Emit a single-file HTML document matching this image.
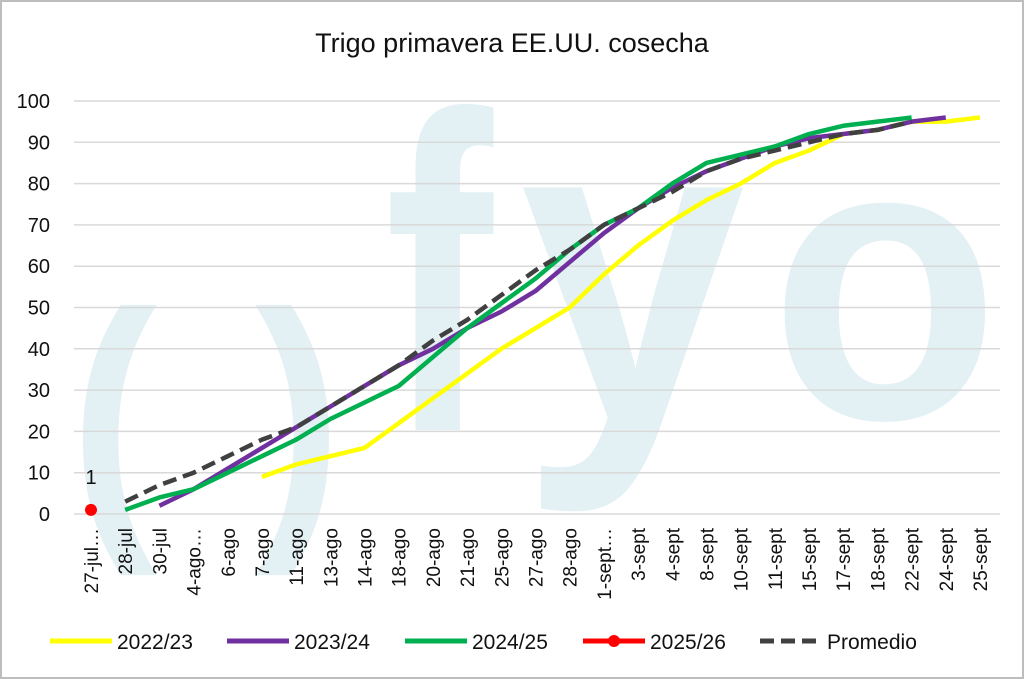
<!DOCTYPE html>
<html><head><meta charset="utf-8"><style>
html,body{margin:0;padding:0;background:#fff;}
svg{display:block;font-family:"Liberation Sans",sans-serif;}
</style></head><body>
<svg id="c" width="1024" height="679" viewBox="0 0 1024 679">
<rect x="1" y="1" width="1022" height="677" fill="#fff" stroke="#bdbdbd" stroke-width="2"/>
<g fill="#e3f0f4" font-weight="bold">
<text x="70" y="515" font-size="290" transform="translate(70,0) scale(0.9,1) translate(-70,0)">(</text>
<text x="255" y="515" font-size="290" transform="translate(255,0) scale(0.9,1) translate(-255,0)">)</text>
<text x="385" y="430" font-size="450" transform="translate(385,0) scale(0.72,1) translate(-385,0)">f</text>
<text x="520" y="420" font-size="440" transform="translate(520,0) scale(0.92,1) translate(-520,0)">y</text>
<text x="770" y="418" font-size="400" transform="translate(770,0) scale(0.94,1) translate(-770,0)">o</text>
</g>
<text x="512" y="52" font-size="27" text-anchor="middle" fill="#111">Trigo primavera EE.UU. cosecha</text>
<g id="grid"></g><g id="yt"></g><g id="xt"></g><g id="series"></g>
<g id="legend"></g>
</svg>
<script>
const categories=["27-jul…","28-jul","30-jul","4-ago…","6-ago","7-ago","11-ago","13-ago","14-ago","18-ago","20-ago","21-ago","25-ago","27-ago","28-ago","1-sept…","3-sept","4-sept","8-sept","10-sept","11-sept","15-sept","17-sept","18-sept","22-sept","24-sept","25-sept"];
const yTicks=[0,10,20,30,40,50,60,70,80,90,100];
const s2223=[null,null,null,null,null,9,12,14,16,22,28,34,40,45,50,58,65,71,76,80,85,88,92,93,95,95,96];
const s2324=[null,null,2,6,11,16,21,26,31,36,40,45,49,54,61,68,74,79,83,86,89,91,92,93,95,96,null];
const s2425=[null,1,4,6,10,14,18,23,27,31,38,45,51,57,64,70,74,80,85,87,89,92,94,95,96,null,null];
const s2526=[1];
const promedio=[null,3,7,10,14,18,21,26,31,36,42,47,53,59,64,70,74,78,83,86,88,90,92,93,95,null,null];
const NS="http://www.w3.org/2000/svg";
const x0=91,x1=980,y0=514,y1=101;
const X=i=>x0+(x1-x0)*i/(categories.length-1);
const Y=v=>y0-(y0-y1)*v/100;
function mk(t,a,p){const e=document.createElementNS(NS,t);for(const k in a)e.setAttribute(k,a[k]);p.appendChild(e);return e;}
const grid=document.getElementById('grid'),yt=document.getElementById('yt'),xt=document.getElementById('xt'),ser=document.getElementById('series'),lg=document.getElementById('legend');
yTicks.forEach(v=>{
 const l=mk('line',{x1:74,x2:1000,y1:Y(v),y2:Y(v),stroke:'#d9d9d9','stroke-width':1.5},grid);
 
 
 const t=mk('text',{x:50,y:Y(v)+7,'font-size':20,'text-anchor':'end',fill:'#111'},yt);
 t.textContent=v;
 
 
});
categories.forEach((c,i)=>{
 const t=mk('text',{transform:`translate(${X(i)+7},528) rotate(-90)`,'font-size':19,'text-anchor':'end',fill:'#111'},xt);
 t.textContent=c;
 
 
});
function line(data,color,name,dash){
 let d='';let pen=false;
 data.forEach((v,i)=>{if(v==null){pen=false;return;}d+=(pen?'L':'M')+X(i)+','+Y(v);pen=true;});
 const p=mk('path',{d:d,fill:'none',stroke:color,'stroke-width':4.5,'stroke-linejoin':'round'},ser);
 if(dash)p.setAttribute('stroke-dasharray','14 7');
 
 
}
line(s2223,'#ffff00','series-2022-23');
line(s2324,'#7030a0','series-2023-24');
line(s2425,'#00b050','series-2024-25');
line(promedio,'#404040','series-promedio',true);
s2526.forEach((v,i)=>{
 const c=mk('circle',{cx:X(i),cy:Y(v),r:6,fill:'#ff0000'},ser);
 
 
 const t=mk('text',{x:X(i),y:Y(v)-26,'font-size':20,'text-anchor':'middle',fill:'#111'},ser);
 t.textContent=v;
 
 
});
const leg=[["2022/23","#ffff00",50,false,false],["2023/24","#7030a0",227,false,false],["2024/25","#00b050",405,false,false],["2025/26","#ff0000",583,false,true],["Promedio","#404040",760,true,false]];
leg.forEach(([lab,col,lx,dash,dot])=>{
 const g=mk('g',{},lg);
 
 
 const l=mk('line',{x1:lx,x2:lx+62,y1:641,y2:641,stroke:col,'stroke-width':5},g);
 if(dash)l.setAttribute('stroke-dasharray','14 7');
 if(dot)mk('circle',{cx:lx+31,cy:641,r:6,fill:col},g);
 const t=mk('text',{x:lx+67,y:649,'font-size':21,fill:'#111'},g);
 t.textContent=lab;
});
</script>
</body></html>
